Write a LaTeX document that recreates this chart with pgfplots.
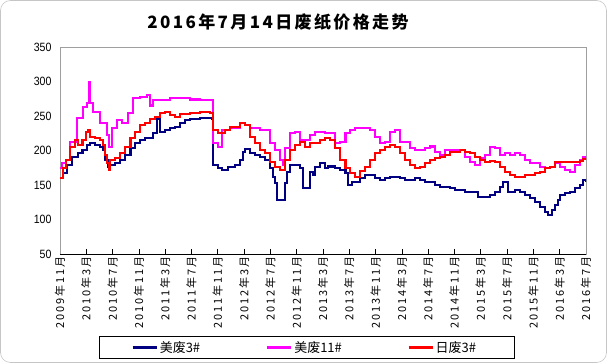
\documentclass[border=0pt]{standalone}
\usepackage{pgfplots}
\pgfplotsset{compat=1.18}
\usepackage{fontspec}
\setmainfont{Liberation Sans}
\newfontfamily\cjk{Noto Sans CJK SC}
\newfontfamily\cjklab[LetterSpace=18]{Noto Sans CJK SC}
\newfontfamily\cjktitle[LetterSpace=14]{Noto Sans CJK SC}
\newfontfamily\narrow[FakeStretch=0.88]{Liberation Sans}
\definecolor{navy}{RGB}{0,0,128}
\definecolor{mag}{RGB}{255,0,255}
\definecolor{rd}{RGB}{255,0,0}
\begin{document}
\begin{tikzpicture}
\useasboundingbox (0,0) rectangle (607bp,363bp);
\draw[gray!45, line width=0.6bp, rounded corners=10bp] (0.5bp,0.5bp) rectangle (606.5bp,362.5bp);
\node[font=\cjktitle\bfseries\fontsize{17bp}{17bp}\selectfont] at (278bp,341bp) {2016年7月14日废纸价格走势};
\begin{axis}[name=main,
  at={(60bp,109bp)}, anchor=south west,
  scale only axis, width=526bp, height=207bp,
  xmin=0, xmax=80, ymin=50, ymax=350,
  ytick={50,100,...,350},
  xtick={0,4,...,80},
  xticklabels={2009年11月,2010年3月,2010年7月,2010年11月,2011年3月,2011年7月,2011年11月,2012年3月,2012年7月,2012年11月,2013年3月,2013年7月,2013年11月,2014年3月,2014年7月,2014年11月,2015年3月,2015年7月,2015年11月,2016年3月,2016年7月},
  xticklabel style={rotate=90, anchor=east, font=\cjklab\fontsize{11bp}{11bp}\selectfont, inner sep=2bp},
  yticklabel style={font=\narrow\fontsize{12bp}{12bp}\selectfont, xshift=-5bp},
  /pgf/number format/assume math mode=true,
  axis line style={draw=gray!75, line width=0.8bp},
  tick align=inside, xtick pos=bottom, ytick style={draw=none},
  xtick style={black, line width=0.8bp}, major tick length=5bp,
  legend columns=3,
  legend style={at={(0.4696,-0.452)}, anchor=center, draw=black, line width=0.8bp,
    inner xsep=32bp, inner ysep=3bp,
    font=\cjk\fontsize{13bp}{13bp}\selectfont,
    /tikz/every even column/.append style={column sep=0bp}},
  legend cell align=left,
  legend image code/.code={\draw[#1, line width=2.5bp] (0bp,0bp) -- (24bp,0bp);},
  every axis plot/.append style={line width=2.3bp, const plot, line join=miter},
]
\addplot[navy] coordinates {
(0,160)(0.5,167)(1.1,179)(1.8,191)(2.7,196)(3.4,201)(4.1,208)(4.6,211)(5.3,208)(6.1,205)
(6.5,201)(6.8,186)(7.3,176)(7.6,179)(8.4,182)(9.1,186)(9.9,193)(10.7,204)(11.4,211)(12.2,215)
(12.9,218)(13.7,218)(14.1,225)(14.8,246)(15.1,249)(15.2,227)(16.0,230)(16.7,233)(17.5,234)(18.3,240)
(19.0,244)(19.8,246)(21.3,247)(22.8,247)(23.1,246)(23.3,179)(24.0,175)(24.6,172)(25.6,176)(26.6,179)
(27.4,186)(27.8,198)(28.1,202)(28.9,196)(29.7,193)(30.4,191)(31.2,186)(31.9,175)(32.4,162)(32.7,153)
(33.0,128)(33.8,128)(34.2,153)(34.5,169)(35.0,179)(35.7,179)(36.5,175)(37.0,146)(37.6,146)(38.0,169)
(38.5,164)(38.8,176)(39.5,182)(40.3,175)(40.8,177)(41.8,175)(42.6,172)(43.4,167)(43.8,150)(44.4,154)
(45.6,160)(46.4,164)(47.2,164)(47.9,160)(48.7,157)(49.4,160)(50.2,162)(51.0,162)(51.7,160)(52.5,157)
(53.2,157)(54.0,160)(54.8,157)(55.5,154)(56.3,154)(57.0,150)(57.8,147)(59.3,146)(60.1,143)(61.6,140)
(63.1,140)(63.6,133)(64.6,133)(65.4,136)(66.2,140)(66.9,147)(67.4,154)(67.7,154)(68.1,140)(69.2,143)
(70.0,140)(70.7,136)(71.5,131)(72.2,125)(73.0,118)(73.8,111)(74.2,107)(74.8,114)(75.3,121)(75.7,128)
(76.0,136)(76.8,138)(77.6,140)(78.3,146)(79.1,150)(79.5,157)(80,155)
};
\addlegendentry{\makebox[104bp][l]{美废3\#}}
\addplot[mag] coordinates {
(0,175)(0.3,182)(0.9,186)(1.5,212)(2.6,247)(3.5,263)(4.1,269)(4.4,299)(4.6,269)(5.0,256)
(6.1,240)(7.1,222)(7.5,205)(7.9,233)(8.7,244)(9.4,240)(10.3,254)(11.1,276)(12.2,278)(13.2,280)
(13.7,265)(14.1,273)(15.2,273)(16.7,276)(18.3,276)(19.8,274)(21.3,273)(23.3,211)(24.0,205)(24.6,230)
(25.9,233)(27.4,240)(28.1,237)(28.9,233)(30.4,230)(31.9,211)(32.7,201)(33.5,186)(33.9,179)(34.2,204)
(35.0,225)(35.7,227)(36.5,215)(38.0,222)(38.8,227)(40.3,225)(41.8,211)(42.6,212)(43.4,225)(44.1,230)
(44.9,233)(46.4,233)(47.2,230)(47.9,220)(48.7,211)(49.4,212)(50.2,227)(51.0,230)(51.7,212)(53.2,204)
(54.0,201)(55.5,204)(56.3,206)(57.0,198)(57.8,193)(58.6,201)(60.8,201)(61.6,191)(62.4,183)(63.1,179)
(63.9,189)(64.6,193)(65.4,205)(66.2,204)(66.9,193)(67.7,196)(68.4,193)(69.2,196)(70.0,193)(70.7,186)
(71.5,182)(73.0,176)(73.8,175)(74.5,176)(75.3,182)(76.0,176)(76.8,172)(77.6,169)(78.3,179)(79.1,186)
(79.5,191)(80,188)
};
\addlegendentry{\makebox[111bp][l]{美废11\#}}
\addplot[rd] coordinates {
(0,160)(0.5,175)(0.9,186)(1.5,205)(2.3,215)(2.7,208)(3.4,215)(4.0,227)(4.3,230)(4.6,220)
(5.3,218)(6.1,215)(6.5,208)(6.8,193)(7.2,182)(7.5,172)(7.6,186)(8.4,189)(9.1,196)(9.9,205)
(10.7,218)(11.4,227)(12.2,237)(12.9,240)(13.7,246)(14.5,249)(15.2,254)(16.0,256)(16.7,251)(17.5,249)
(18.3,253)(19.8,254)(21.3,256)(22.8,254)(23.3,230)(24.0,225)(25.1,230)(25.9,234)(27.4,240)(28.1,237)
(28.9,220)(29.7,211)(30.4,201)(31.2,196)(31.9,183)(32.7,176)(33.5,172)(34.2,186)(35.0,201)(35.7,208)
(36.5,212)(37.3,205)(38.0,211)(39.5,215)(40.3,218)(41.1,215)(41.8,204)(42.6,186)(43.4,175)(44.1,167)
(44.9,162)(45.6,170)(46.4,176)(47.2,186)(47.9,196)(48.7,201)(49.4,205)(50.2,208)(51.0,205)(51.7,196)
(52.5,186)(53.2,179)(54.0,175)(54.8,176)(55.5,182)(56.3,186)(57.0,189)(57.8,191)(58.6,193)(59.3,198)
(60.8,201)(61.6,198)(62.4,196)(63.1,191)(63.9,186)(64.6,183)(65.4,185)(66.2,183)(66.9,176)(67.7,169)
(68.4,164)(69.2,162)(70.0,162)(70.7,164)(71.5,164)(72.2,167)(73.0,169)(73.8,175)(74.5,176)(75.3,183)
(76.8,183)(78.3,183)(79.1,185)(79.5,188)(80,186)
};
\addlegendentry{\makebox[45bp][l]{日废3\#}}
\end{axis}
\draw[black, line width=0.8bp] (main.south west) -- (main.south east);
\end{tikzpicture}
\end{document}
